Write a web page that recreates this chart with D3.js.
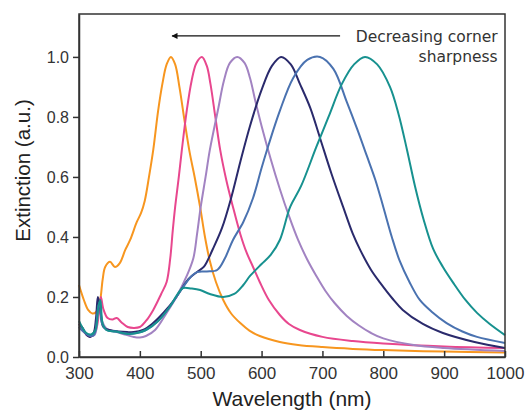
<!DOCTYPE html>
<html>
<head>
<meta charset="utf-8">
<script src="https://cdn.jsdelivr.net/npm/d3@7"></script>
<style>
  body { margin: 0; background: #fff; }
  text { font-family: Arial, "Liberation Sans", sans-serif; }
</style>
</head>
<body>
<div class="canvas"></div>
<script>
// tick labels
const xTicks = [300, 400, 500, 600, 700, 800, 900, 1000];
const yTicks = [0, 0.2, 0.4, 0.6, 0.8, 1.0];

// extinction spectra, [wavelength nm, extinction a.u.]
const orange = [[300,0.24],[308,0.19],[315,0.157],[322,0.145],[328,0.15],[334,0.18],[339,0.26],[343,0.3],[351,0.317],[359,0.3],[367,0.313],[376,0.357],[384,0.39],[395,0.45],[402,0.48],[408,0.52],[415,0.6],[422,0.69],[430,0.82],[437,0.91],[444,0.975],[451,1.0],[458,0.975],[465,0.9],[474,0.78],[482,0.68],[490,0.6],[499,0.5],[507,0.4],[515,0.32],[525,0.25],[537,0.19],[550,0.145],[565,0.113],[580,0.088],[597,0.07],[630,0.05],[660,0.04],[700,0.033],[750,0.027],[800,0.023],[900,0.018],[1000,0.015]];
const pink = [[300,0.11],[308,0.085],[315,0.07],[322,0.07],[328,0.09],[333,0.15],[336,0.2],[340,0.16],[347,0.13],[355,0.125],[362,0.13],[370,0.115],[380,0.1],[390,0.097],[400,0.1],[410,0.12],[422,0.157],[435,0.21],[444,0.25],[450,0.33],[454,0.42],[458,0.5],[464,0.6],[469,0.69],[477,0.82],[485,0.92],[493,0.98],[502,1.0],[510,0.97],[516,0.91],[524,0.8],[532,0.69],[542,0.59],[553,0.5],[565,0.41],[575,0.35],[586,0.3],[597,0.25],[612,0.19],[630,0.14],[645,0.11],[663,0.09],[700,0.067],[750,0.053],[800,0.045],[900,0.035],[1000,0.03]];
const purple = [[300,0.1],[310,0.08],[318,0.07],[326,0.075],[331,0.15],[334,0.18],[338,0.12],[345,0.095],[360,0.085],[375,0.075],[390,0.067],[400,0.065],[410,0.07],[425,0.09],[444,0.147],[460,0.2],[477,0.27],[488,0.33],[494,0.41],[500,0.5],[508,0.6],[515,0.69],[529,0.83],[538,0.92],[548,0.98],[560,1.0],[572,0.98],[581,0.93],[589,0.86],[600,0.77],[615,0.66],[630,0.56],[645,0.47],[660,0.39],[675,0.325],[690,0.27],[705,0.22],[720,0.18],[740,0.137],[760,0.105],[780,0.08],[800,0.062],[850,0.04],[900,0.03],[1000,0.02]];
const navy = [[300,0.11],[305,0.1],[312,0.075],[318,0.067],[324,0.08],[328,0.13],[331,0.2],[335,0.16],[340,0.1],[350,0.09],[365,0.085],[379,0.083],[390,0.083],[405,0.09],[420,0.11],[440,0.15],[460,0.2],[480,0.26],[495,0.285],[505,0.3],[520,0.36],[535,0.43],[550,0.53],[565,0.65],[581,0.77],[600,0.89],[617,0.97],[632,1.0],[648,0.975],[663,0.91],[680,0.83],[696,0.73],[715,0.61],[734,0.5],[750,0.41],[762,0.357],[780,0.29],[795,0.247],[815,0.195],[832,0.157],[865,0.11],[898,0.08],[950,0.05],[1000,0.03]];
const blue = [[300,0.1],[310,0.08],[318,0.07],[325,0.075],[331,0.16],[334,0.18],[338,0.11],[345,0.09],[360,0.085],[380,0.078],[395,0.08],[410,0.09],[430,0.12],[450,0.17],[470,0.23],[485,0.27],[494,0.283],[510,0.285],[527,0.29],[540,0.33],[553,0.39],[570,0.45],[586,0.53],[600,0.63],[612,0.71],[630,0.82],[652,0.93],[675,0.99],[696,1.0],[718,0.96],[740,0.85],[757,0.76],[773,0.67],[787,0.59],[800,0.5],[814,0.4],[827,0.32],[843,0.25],[860,0.19],[880,0.15],[904,0.113],[930,0.085],[954,0.067],[1000,0.047]];
const teal = [[300,0.12],[305,0.1],[312,0.08],[320,0.075],[327,0.09],[332,0.17],[335,0.19],[339,0.11],[345,0.09],[360,0.085],[380,0.077],[395,0.08],[410,0.09],[430,0.12],[450,0.17],[462,0.21],[471,0.23],[485,0.228],[499,0.223],[515,0.21],[537,0.2],[555,0.21],[570,0.24],[581,0.27],[600,0.31],[615,0.34],[630,0.39],[647,0.5],[665,0.57],[690,0.7],[710,0.8],[732,0.91],[752,0.975],[770,1.0],[790,0.975],[811,0.9],[825,0.81],[839,0.69],[852,0.57],[866,0.46],[882,0.36],[898,0.3],[915,0.247],[935,0.19],[954,0.147],[975,0.11],[1000,0.073]];

const series = [
  { name: 'orange', color: '#f7961f', values: orange },
  { name: 'pink', color: '#e8478e', values: pink },
  { name: 'purple', color: '#a283c2', values: purple },
  { name: 'navy', color: '#2a2a6c', values: navy },
  { name: 'blue', color: '#4a72b0', values: blue },
  { name: 'teal', color: '#17918f', values: teal }
];

const svg = d3.select('.canvas')
  .append('svg')
  .attr('width', 525)
  .attr('height', 413);

// plot frame
const margin = { top: 14, right: 20, bottom: 56, left: 79 };
const graphWidth = 525 - margin.left - margin.right;
const graphHeight = 413 - margin.top - margin.bottom;

const graph = svg.append('g')
  .attr('transform', `translate(${margin.left},${margin.top})`);

const x = d3.scaleLinear()
  .domain([300, 1000])
  .range([0, graphWidth]);

const y = d3.scaleLinear()
  .domain([0, 1.143])
  .range([graphHeight, 0]);

const line = d3.line()
  .x(d => x(d[0]))
  .y(d => y(d[1]))
  .curve(d3.curveCatmullRom.alpha(0.5));

graph.selectAll('path.spec')
  .data(series)
  .enter()
  .append('path')
  .attr('class', 'spec')
  .attr('d', d => line(d.values))
  .attr('fill', 'none')
  .attr('stroke', d => d.color)
  .attr('stroke-width', 2);

// box
graph.append('rect')
  .attr('width', graphWidth)
  .attr('height', graphHeight)
  .attr('fill', 'none')
  .attr('stroke', '#333')
  .attr('stroke-width', 1.5);

// axes
const xAxis = d3.axisBottom(x)
  .tickValues(xTicks)
  .tickFormat(d3.format('d'))
  .tickSizeInner(-6)
  .tickSizeOuter(0)
  .tickPadding(10);
const yAxis = d3.axisLeft(y)
  .tickValues(yTicks)
  .tickFormat(d3.format('.1f'))
  .tickSizeInner(6)
  .tickSizeOuter(0)
  .tickPadding(4);

const xAxisGroup = graph.append('g')
  .attr('transform', `translate(0,${graphHeight})`)
  .call(xAxis);
const yAxisGroup = graph.append('g').call(yAxis);

[xAxisGroup, yAxisGroup].forEach(g => {
  g.select('.domain').attr('stroke', '#333').attr('stroke-width', 1.5);
  g.selectAll('line').attr('stroke', '#333').attr('stroke-width', 1.5);
  g.selectAll('text')
    .attr('fill', '#333')
    .style('font-family', 'Arial, "Liberation Sans", sans-serif');
});
xAxisGroup.selectAll('text').style('font-size', '17px');
yAxisGroup.selectAll('text').style('font-size', '16px');

// axis titles
svg.append('text')
  .attr('x', margin.left + graphWidth / 2)
  .attr('y', 406)
  .attr('text-anchor', 'middle')
  .attr('fill', '#222')
  .style('font-size', '21px')
  .text('Wavelength (nm)');

svg.append('text')
  .attr('transform', `translate(30,${margin.top + graphHeight / 2 - 15}) rotate(-90)`)
  .attr('text-anchor', 'middle')
  .attr('fill', '#222')
  .style('font-size', '20.5px')
  .text('Extinction (a.u.)');

// annotation arrow
svg.append('defs').append('marker')
  .attr('id', 'head')
  .attr('viewBox', '0 0 10 10')
  .attr('refX', 9)
  .attr('refY', 5)
  .attr('markerWidth', 9)
  .attr('markerHeight', 6)
  .attr('markerUnits', 'userSpaceOnUse')
  .attr('orient', 'auto')
  .append('path')
  .attr('d', 'M0,0L10,5L0,10Z')
  .attr('fill', '#111');

graph.append('line')
  .attr('x1', x(729))
  .attr('x2', x(453))
  .attr('y1', y(1.07))
  .attr('y2', y(1.07))
  .attr('stroke', '#111')
  .attr('stroke-width', 1.2)
  .attr('marker-end', 'url(#head)');

const note = graph.append('text')
  .attr('text-anchor', 'end')
  .attr('fill', '#333')
  .style('font-family', '"DejaVu Sans", sans-serif')
  .style('font-size', '15.5px');
note.append('tspan').attr('x', x(988)).attr('y', y(1.05)).text('Decreasing corner');
note.append('tspan').attr('x', x(988)).attr('y', y(0.984)).text('sharpness');
</script>
</body>
</html>
